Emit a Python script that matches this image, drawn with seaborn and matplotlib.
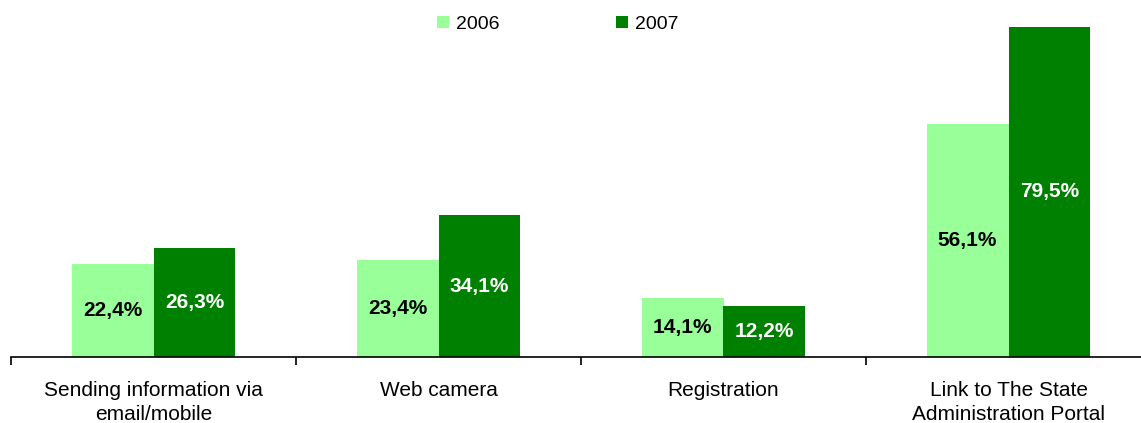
import pandas as pd
import matplotlib
matplotlib.use("Agg")
import matplotlib.pyplot as plt
from matplotlib.ticker import FixedLocator
import seaborn as sns

# ── data ─────────────────────────────────────────────
categories = ["Sending information via\nemail/mobile", "Web camera",
              "Registration", "Link to The State\nAdministration Portal"]
years = ["2006", "2007"]
values_2006 = [22.4, 23.4, 14.1, 56.1]
values_2007 = [26.3, 34.1, 12.2, 79.5]

COLORS = {"2006": "#99FF99", "2007": "#008000"}
LABEL_COLORS = ["black", "white"]

df = pd.DataFrame({
    "category": categories * 2,
    "year": ["2006"] * 4 + ["2007"] * 4,
    "value": values_2006 + values_2007,
})

sns.set_theme(style="white")
plt.rcParams["font.family"] = ["Liberation Sans", "DejaVu Sans"]

fig = plt.figure(figsize=(11.41, 4.23), dpi=100)
ax = fig.add_axes([11 / 1141, 66 / 423, 1140 / 1141, 357 / 423])

sns.barplot(data=df, x="category", y="value", hue="year", order=categories,
            hue_order=years, palette=COLORS, width=0.575, gap=0,
            saturation=1, linewidth=0, ax=ax, legend=True)

for cont, col in zip(ax.containers, LABEL_COLORS):
    ax.bar_label(cont, labels=[f"{b.get_height():.1f}%".replace(".", ",") for b in cont],
                 label_type="center", color=col, fontsize=15, fontweight="bold")

ax.set_xlim(-0.5, 3.5)
ax.set_ylim(0, 86)
ax.set_xlabel("")
ax.set_ylabel("")
ax.set_yticks([])
for s in ["left", "top", "right"]:
    ax.spines[s].set_visible(False)
ax.spines["bottom"].set_color("black")
ax.spines["bottom"].set_linewidth(1.2)

# tick marks between categories, labels centered without marks
ax.xaxis.set_minor_locator(FixedLocator([-0.5, 0.5, 1.5, 2.5, 3.5]))
ax.tick_params(axis="x", which="minor", length=6, width=1.2, color="black", bottom=True)
ax.tick_params(axis="x", which="major", length=0, pad=17, labelsize=15, labelcolor="black")
for t in ax.get_xticklabels():
    t.set_linespacing(1.35)

leg = ax.legend(loc="upper center", bbox_to_anchor=(0.4886, 0.995), bbox_transform=fig.transFigure,
                ncol=2, frameon=False, fontsize=14, handlelength=0.62, handleheight=0.62,
                handletextpad=0.36, columnspacing=6.0, borderaxespad=0.3)
for t in leg.get_texts():
    t.set_color("black")

fig.savefig("out.png", dpi=100)
